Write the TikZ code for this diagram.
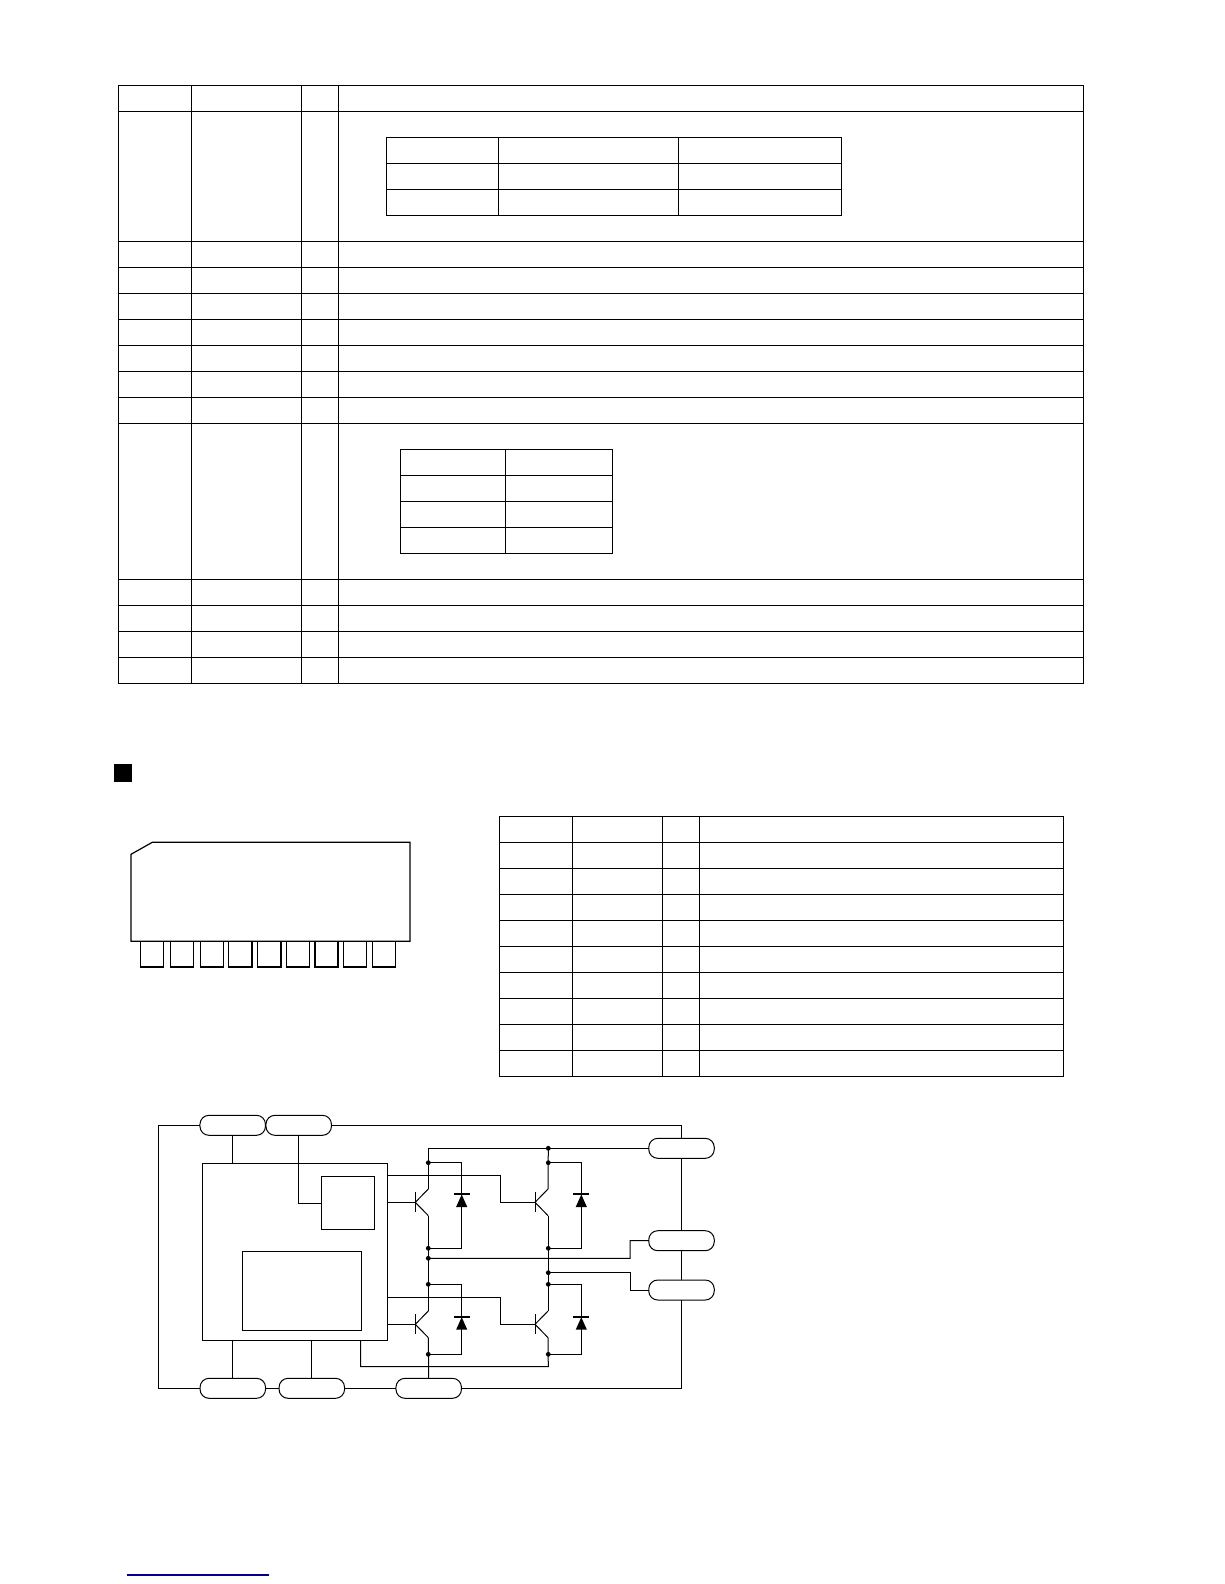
\documentclass[tikz,border=0pt]{standalone}
\usetikzlibrary{calc}
\definecolor{linkblue}{RGB}{0,0,140}
\tikzset{
  wire/.style={line width=1pt,line join=miter},
  rule/.style={line width=1pt},
  pill/.style={draw,line width=1pt,rectangle,rounded corners=9pt,minimum width=65.5pt,minimum height=20pt,inner sep=0pt,outer sep=0pt},
  blockbox/.style={draw,line width=1pt,rectangle,inner sep=0pt,outer sep=0pt},
  joint/.style={circle,fill=black,inner sep=0pt,minimum size=4.8pt,outer sep=0pt},
  npn/.pic={
    \coordinate (-b) at (0,0);
    \coordinate (-c) at (13,-13.3);
    \coordinate (-e) at (13,13.3);
    \draw[wire] (0,-10) -- (0,10);
    \draw[wire] (-c) -- (-b) -- (-e);
  },
  diodepic/.pic={
    \coordinate (-a) at (0,0);
    \fill (-8,-7.8) rectangle (8,-6);
    \fill (-5.6,6) -- (5.6,6) -- (0,-6.5) -- cycle;
  }
}
\begin{document}
\begin{tikzpicture}[x=1pt,y=-1pt]
\useasboundingbox[fill=white] (0,0) rectangle (1224,1584);

% --- upper table
\draw[rule] (118.4,85.3) rectangle (1083.6,683.3);
\foreach \yy in {111.3,241.3,267.3,293.3,319.3,345.3,371.3,397.3,423.3,579.3,605.3,631.3,657.3}
  \draw[rule] (118.4,\yy) -- (1083.6,\yy);
\foreach \xx in {191.4,301.6,338.3}
  \draw[rule] (\xx,85.3) -- (\xx,683.3);

% --- inset table 1
\draw[rule] (386.3,137.3) rectangle (841,215.3);
\foreach \yy in {163.3,189.3} \draw[rule] (386.3,\yy) -- (841,\yy);
\foreach \xx in {498.8,678} \draw[rule] (\xx,137.3) -- (\xx,215.3);

% --- inset table 2
\draw[rule] (400.3,449.3) rectangle (612.3,553.3);
\foreach \yy in {475.3,501.3,527.3} \draw[rule] (400.3,\yy) -- (612.3,\yy);
\draw[rule] (505.3,449.3) -- (505.3,553.3);

% --- section marker
\fill (114,764) rectangle (132,782);

% --- package outline
\foreach \xa/\xb in {140.7/163.7,170.3/193.7,200.3/223.7,228.7/252,257.7/281,286.3/309.7,315/338,343.7/366.7,372.3/395.3}
  \draw[line width=1.1pt] (\xa,941.3) rectangle (\xb,967);
\draw[line width=1.2pt,fill=white] (131,854.3) -- (152.3,842.3) -- (410,842.3) -- (410,941.3) -- (131,941.3) -- cycle;

% --- pin table
\draw[rule] (499.3,816.3) rectangle (1063.5,1076.3);
\foreach \yy in {842.3,868.3,894.3,920.3,946.3,972.3,998.3,1024.3,1050.3}
  \draw[rule] (499.3,\yy) -- (1063.5,\yy);
\foreach \xx in {572.6,662.5,699}
  \draw[rule] (\xx,816.3) -- (\xx,1076.3);

% --- schematic: blocks
\node[blockbox,minimum width=185.4pt,minimum height=177pt] (ctrl) at (295,1251.8) {};
\node[blockbox,minimum width=53.4pt,minimum height=53.7pt] (reg) at (348,1203.1) {};
\node[blockbox,minimum width=119.4pt,minimum height=79pt] (logic) at (302,1290.8) {};

% --- bus coordinates
\coordinate (outerTL) at (158.3,1125.3);
\coordinate (outerBL) at (158.3,1388.3);
\coordinate (outerTR) at (681.5,1125.3);
\coordinate (outerBR) at (681.5,1388.3);
\coordinate (top1) at (428.3,1148.3);
\coordinate (gateA) at (500.5,1175.7);
\coordinate (gateB) at (500.5,1297.3);
\coordinate (stepA) at (630,1240.5);
\coordinate (stepB) at (630,1290);
\coordinate (gnd) at (548.3,1366.7);
\coordinate (sns) at (360.7,1366.7);

% --- transistors and diodes
\pic (q1) at (415.3,1202.3) {npn};
\pic (q2) at (535,1202.3) {npn};
\pic (q3) at (415.3,1324.3) {npn};
\pic (q4) at (535,1324.3) {npn};
\pic (d1) at (461.7,1201) {diodepic};
\pic (d2) at (581.3,1201) {diodepic};
\pic (d3) at (461.7,1323.7) {diodepic};
\pic (d4) at (581.3,1323.7) {diodepic};

% --- pills
\node[pill] (ptA) at (232.7,1125.3) {};
\node[pill] (ptB) at (298.7,1125.3) {};
\node[pill] (pbA) at (232.8,1388.3) {};
\node[pill] (pbB) at (311.8,1388.3) {};
\node[pill] (pbC) at (428.7,1388.3) {};
\node[pill] (prA) at (681.5,1148.3) {};
\node[pill] (prB) at (681.5,1240.7) {};
\node[pill] (prC) at (681.5,1290) {};

% --- junctions
\node[joint] (jt2) at (548.3,1148.3) {};
\node[joint] (ja1) at (428.3,1162.7) {};
\node[joint] (ja2) at (548.3,1162.7) {};
\node[joint] (jb1) at (428.3,1248.3) {};
\node[joint] (jb2) at (548.3,1248.3) {};
\node[joint] (jm1) at (428.3,1258.3) {};
\node[joint] (jm2) at (548.3,1272.7) {};
\node[joint] (jc1) at (428.3,1284.3) {};
\node[joint] (jc2) at (548.3,1284.3) {};
\node[joint] (je1) at (428.3,1354.3) {};
\node[joint] (je2) at (548.3,1354.3) {};

% --- wires
\draw[wire] (ptA.west) -- (outerTL) -- (outerBL) -- (pbA.west);
\draw[wire] (pbA.east) -- (pbB.west);
\draw[wire] (pbB.east) -- (pbC.west);
\draw[wire] (pbC.east) -- (outerBR) -- (prC.south);
\draw[wire] (ptB.east) -- (outerTR) -- (prA.north);
\draw[wire] (prA.south) -- (prB.north);
\draw[wire] (prB.south) -- (prC.north);
\draw[wire] (ptA.south) -- (ptA.south |- ctrl.north);
\draw[wire] (ptB.south) -- (ptB.south |- reg.west) -- (reg.west);
\draw[wire] (pbA.north) -- (pbA.north |- ctrl.south);
\draw[wire] (pbB.north) -- (pbB.north |- ctrl.south);
\draw[wire] (sns |- ctrl.south) -- (sns) -- (gnd) -- (q4-e);
\draw[wire] (ctrl.east |- q1-b) -- (q1-b);
\draw[wire] (ctrl.east |- gateA) -- (gateA) -- (gateA |- q2-b) -- (q2-b);
\draw[wire] (ctrl.east |- q3-b) -- (q3-b);
\draw[wire] (ctrl.east |- gateB) -- (gateB) -- (gateB |- q4-b) -- (q4-b);
\draw[wire] (prA.west) -- (jt2.center) -- (top1) -- (q1-c);
\draw[wire] (jt2.center) -- (q2-c);
\draw[wire] (q1-e) -- (q3-c);
\draw[wire] (q2-e) -- (q4-c);
\draw[wire] (q3-e) -- (pbC.north);
\draw[wire] (ja1.center) -| (d1-a) |- (jb1.center);
\draw[wire] (ja2.center) -| (d2-a) |- (jb2.center);
\draw[wire] (jc1.center) -| (d3-a) |- (je1.center);
\draw[wire] (jc2.center) -| (d4-a) |- (je2.center);
\draw[wire] (jm1.center) -- (stepA |- jm1.center) -- (stepA) -- (prB.west);
\draw[wire] (jm2.center) -- (stepB |- jm2.center) -- (stepB) -- (prC.west);

% --- footer rule
\draw[linkblue,line width=1.1pt] (127,1575) -- (269,1575);
\end{tikzpicture}
\end{document}
